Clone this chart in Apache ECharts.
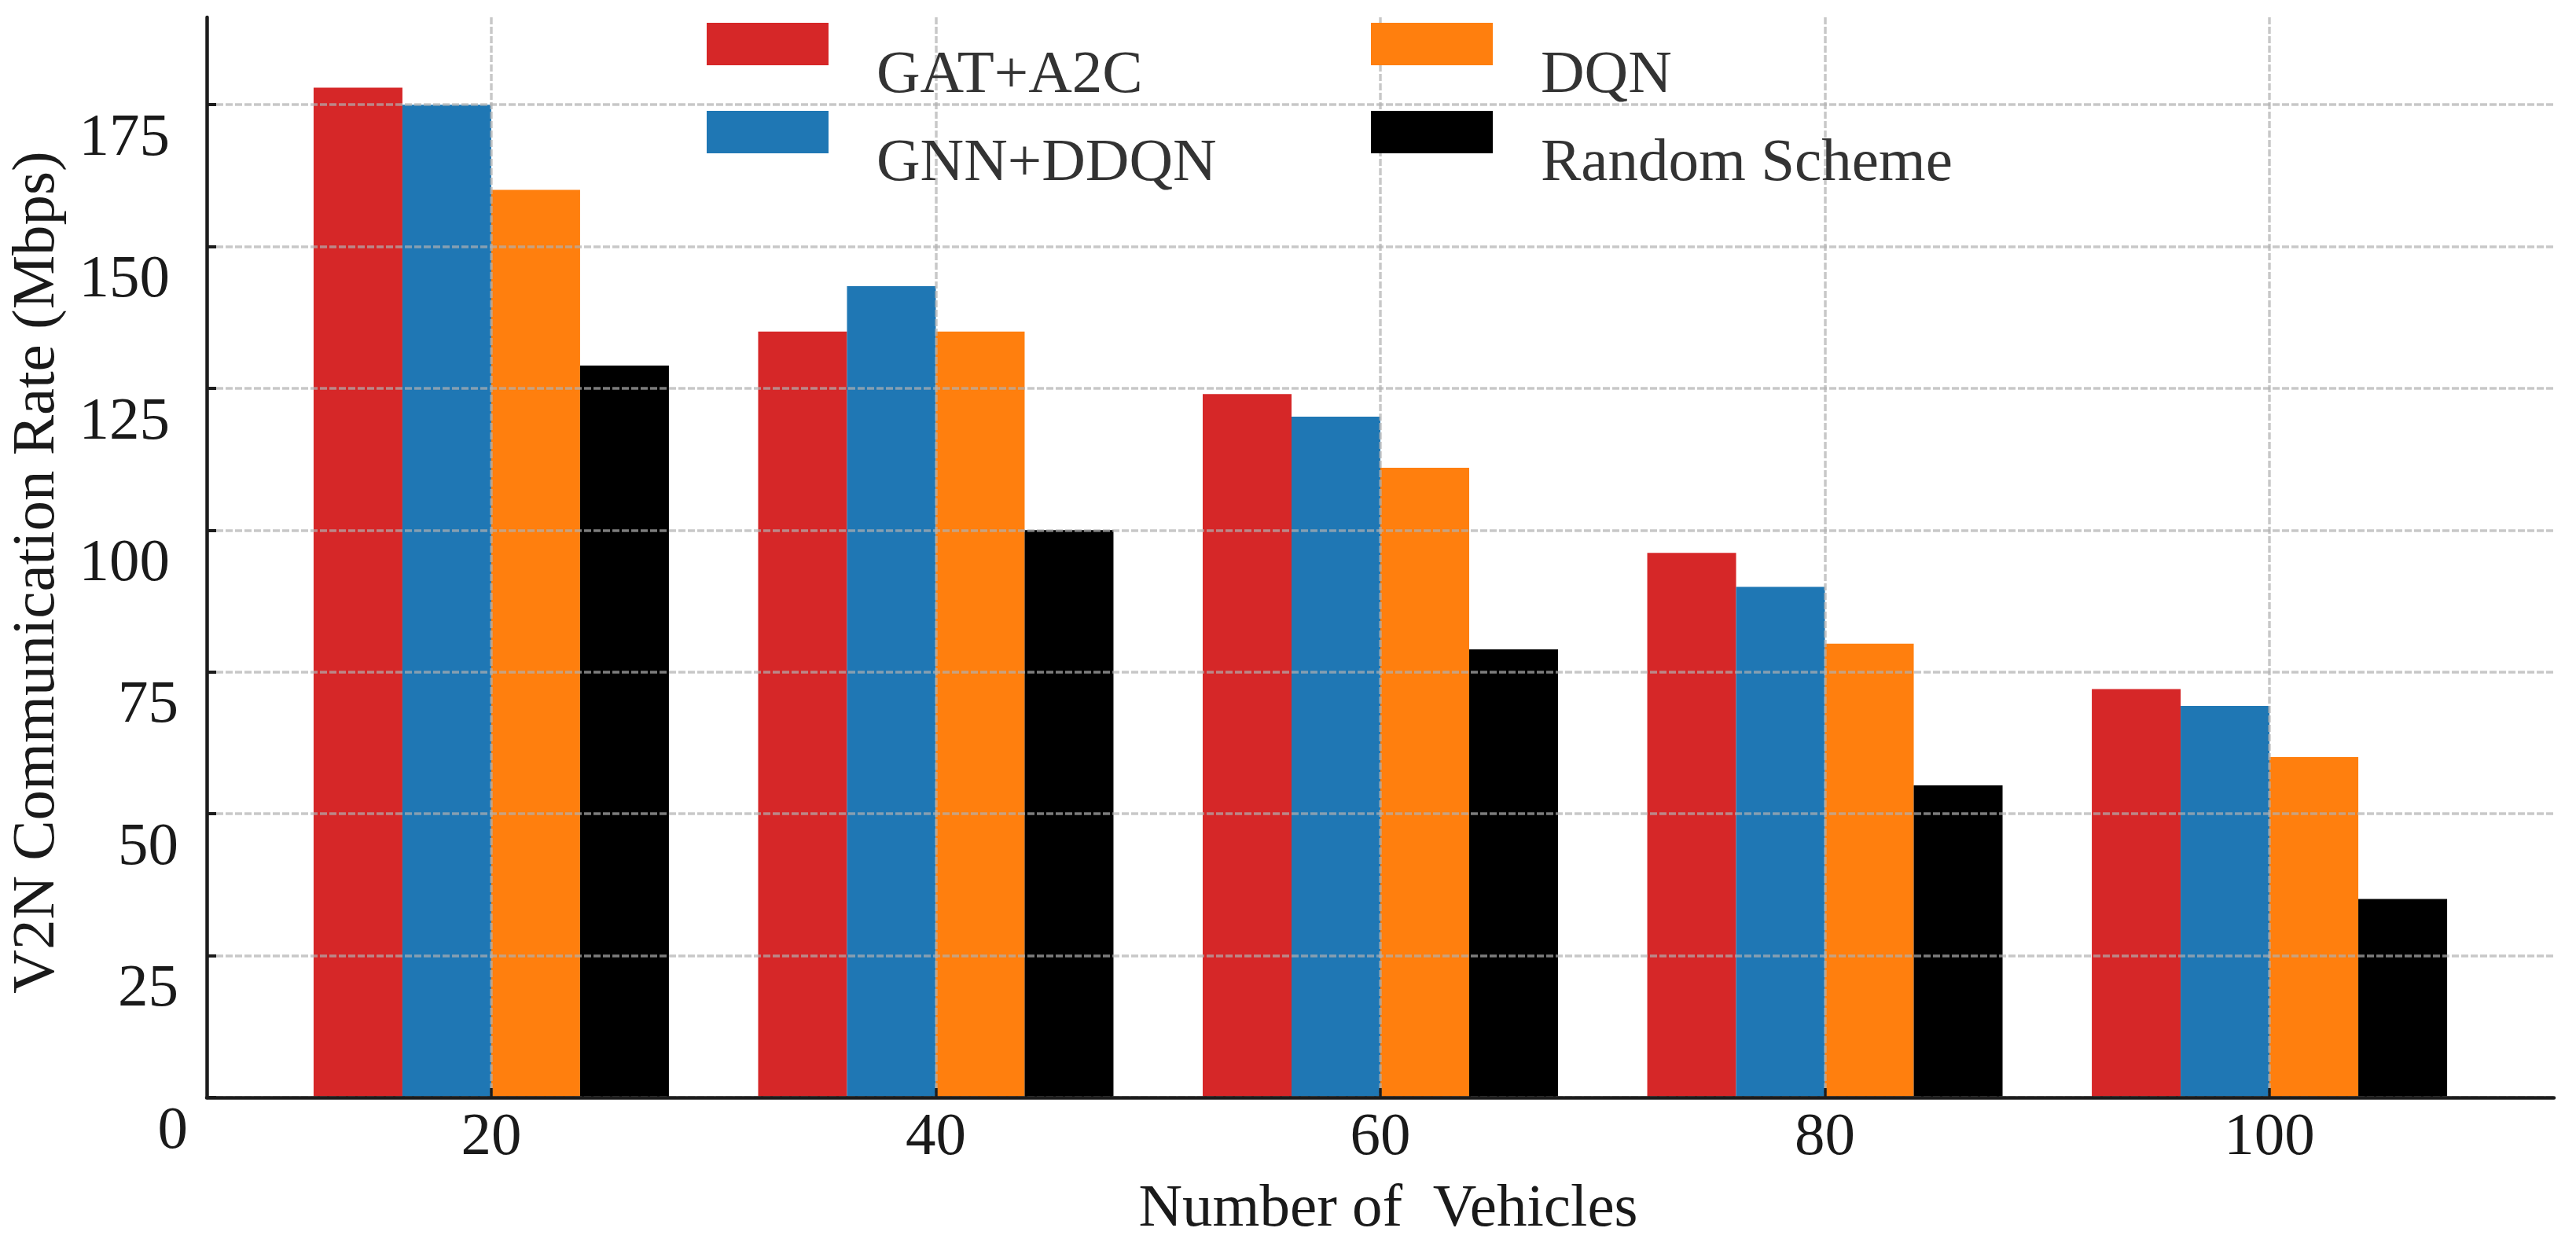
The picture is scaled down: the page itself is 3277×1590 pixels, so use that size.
<!DOCTYPE html>
<html>
<head>
<meta charset="utf-8">
<script src="https://cdn.jsdelivr.net/npm/echarts@6/dist/echarts.min.js"></script>
<style>
html,body{margin:0;padding:0;background:#fff;}
#chart{width:3277px;height:1590px;}
</style>
</head>
<body>
<div id="chart"></div>
<script>
const vehicles = [20, 40, 60, 80, 100];
const gatA2C = [178, 135, 124, 96, 72];
const gnnDDQN = [175, 143, 120, 90, 69];
const dqn = [160, 135, 111, 80, 60];
const randomScheme = [129, 100, 79, 55, 35];
const yTicks = [0, 25, 50, 75, 100, 125, 150, 175];
const seriesNames = ['GAT+A2C', 'GNN+DDQN', 'DQN', 'Random Scheme'];
const seriesColors = ['#d62728', '#1f77b4', '#ff7f0e', '#000000'];

const FONT = 'Liberation Serif';
const FS = 77;
const TXT = '#1a1a1a';

const allValues = [gatA2C, gnnDDQN, dqn, randomScheme];
const series = allValues.map((vals, i) => ({
  name: seriesNames[i],
  type: 'bar',
  data: vehicles.map((x, j) => [x, vals[j]]),
  barWidth: 113,
  barGap: '0%',
  itemStyle: { color: seriesColors[i] },
  z: 2
}));

const legendText = {
  fontFamily: FONT, fontSize: FS, color: '#333333', lineHeight: 81,
  padding: [0, 0, 0, 56]
};
function legend(names, left) {
  return {
    data: names, orient: 'vertical', left: left, top: -25, padding: 0,
    itemWidth: 155, itemHeight: 54, itemGap: -50, icon: 'rect',
    formatter: n => '\n' + n,
    textStyle: legendText, selectedMode: false
  };
}

const richBase = { fontFamily: FONT, fontSize: FS, color: TXT, lineHeight: FS };

const chart = echarts.init(document.getElementById('chart'), null, { renderer: 'canvas' });
chart.setOption({
  animation: false,
  backgroundColor: '#ffffff',
  grid: { left: 263, right: 28, top: 22, bottom: 194, containLabel: false, outerBoundsMode: 'none' },
  legend: [
    legend([seriesNames[0], seriesNames[1]], 899),
    legend([seriesNames[2], seriesNames[3]], 1744)
  ],
  xAxis: {
    type: 'value', min: 7.2, max: 112.8, z: 4,
    name: 'Number of  Vehicles', nameLocation: 'middle', nameGap: 104,
    nameTextStyle: { fontFamily: FONT, fontSize: FS, color: TXT, lineHeight: FS, padding: [0, 0, 0, 20] },
    axisLine: { show: true, lineStyle: { color: '#1c1c1c', width: 4.5 } },
    axisTick: { show: true, inside: true, length: 12, customValues: vehicles, lineStyle: { color: '#1c1c1c', width: 3.5 } },
    axisLabel: { customValues: vehicles, margin: 13, fontFamily: FONT, fontSize: FS, color: TXT, lineHeight: FS },
    splitLine: { show: true, lineStyle: { color: 'rgba(176,176,176,0.7)', width: 3.5, type: [9, 3] } }
  },
  yAxis: {
    type: 'value', min: 0, max: 190.4, z: 3,
    name: 'V2N Communication Rate (Mbps)', nameLocation: 'middle', nameGap: 177,
    nameTextStyle: { fontFamily: FONT, fontSize: FS, color: TXT, lineHeight: FS, padding: [0, 38, 0, 0] },
    axisLine: { show: true, lineStyle: { color: '#1c1c1c', width: 4.5 } },
    axisTick: { show: true, inside: true, length: 12, customValues: yTicks, lineStyle: { color: '#1c1c1c', width: 4 } },
    axisLabel: {
      customValues: yTicks, margin: 24, verticalAlign: 'top', padding: [5, 0, 0, 0],
      fontFamily: FONT, fontSize: FS, color: TXT, lineHeight: FS,
      formatter: v => '{' + (v >= 100 ? 'a' : (v >= 10 ? 'b' : 'c')) + '|' + v + '}',
      rich: {
        a: Object.assign({ padding: [0, 23, 0, 0] }, richBase),
        b: Object.assign({ padding: [0, 12, 0, 0] }, richBase),
        c: Object.assign({ padding: [0, 0, 0, 0] }, richBase)
      }
    },
    splitLine: { show: true, lineStyle: { color: 'rgba(176,176,176,0.7)', width: 3.5, type: [9, 3] } }
  },
  series: series
});
</script>
</body>
</html>
